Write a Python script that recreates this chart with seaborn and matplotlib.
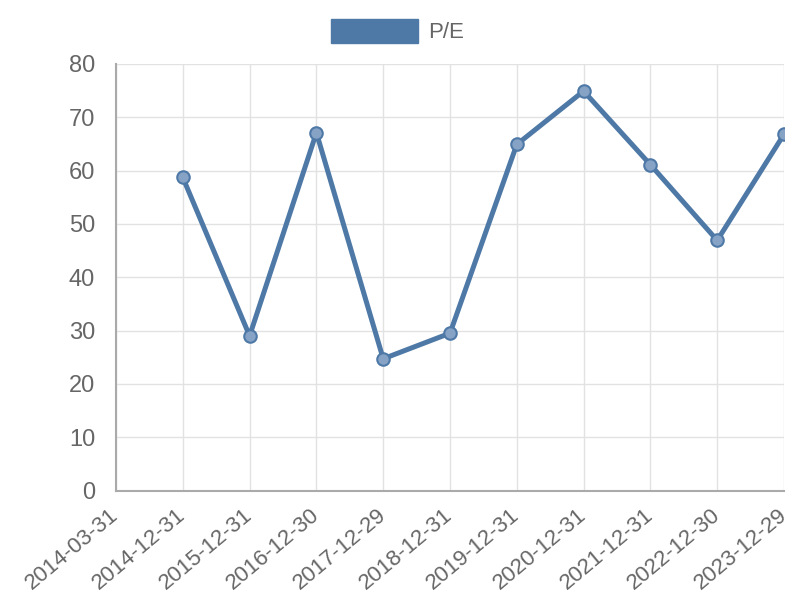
import matplotlib.pyplot as plt
import matplotlib.patches as mpatches
import numpy as np
import pandas as pd
import seaborn as sns

# Data
dates = [
    "2014-03-31", "2014-12-31", "2015-12-31", "2016-12-30", "2017-12-29", "2018-12-31",
    "2019-12-31", "2020-12-31", "2021-12-31", "2022-12-30", "2023-12-29",
]
pe_values = [np.nan, 58.7, 29.0, 67.1, 24.7, 29.5, 64.9, 74.9, 61.1, 46.9, 66.8]
y_ticks = [0, 10, 20, 30, 40, 50, 60, 70, 80]

line_color = "#4e79a7"
text_color = "#666666"
grid_color = "#e2e2e2"

sns.set_style("white")
plt.rcParams["font.family"] = ["Liberation Sans", "DejaVu Sans"]

df = pd.DataFrame({"pos": np.arange(len(dates)), "date": dates, "pe": pe_values})

fig = plt.figure(figsize=(8, 6), dpi=100)
ax = fig.add_axes([0.145, 0.1825, 0.835, 0.711])

sns.lineplot(data=df, x="pos", y="pe", ax=ax, color=line_color, linewidth=3.6,
             marker="o", markersize=9, markerfacecolor="#86a3c6",
             markeredgecolor=line_color, markeredgewidth=1.5, legend=False)

ax.set_xlim(0, len(dates) - 1)
ax.set_ylim(0, 80)
ax.set_xticks(df["pos"])
ax.set_xticklabels(dates, rotation=40, ha="right", va="center", rotation_mode="anchor")
ax.set_yticks(y_ticks)
ax.set_xlabel("")
ax.set_ylabel("")

ax.grid(True, color=grid_color, linewidth=1)
ax.set_axisbelow(True)
for side in ["top", "right"]:
    ax.spines[side].set_visible(False)
for side in ["left", "bottom"]:
    ax.spines[side].set_color("#aaaaaa")
    ax.spines[side].set_linewidth(1.5)

ax.tick_params(axis="y", direction="out", length=11, width=1, color=grid_color,
               labelcolor=text_color, labelsize=17, pad=4)
ax.tick_params(axis="x", direction="out", length=8, width=1, color=grid_color,
               labelcolor=text_color, labelsize=16, pad=8)

handle = mpatches.Patch(facecolor=line_color, edgecolor=line_color, label="P/E")
fig.legend(handles=[handle], loc="center", bbox_to_anchor=(0.497, 1 - 31 / 600),
           frameon=False, fontsize=16, handlelength=3.9, handleheight=1.35,
           handletextpad=0.45, labelcolor=text_color)

fig.savefig("out.png", dpi=100)
